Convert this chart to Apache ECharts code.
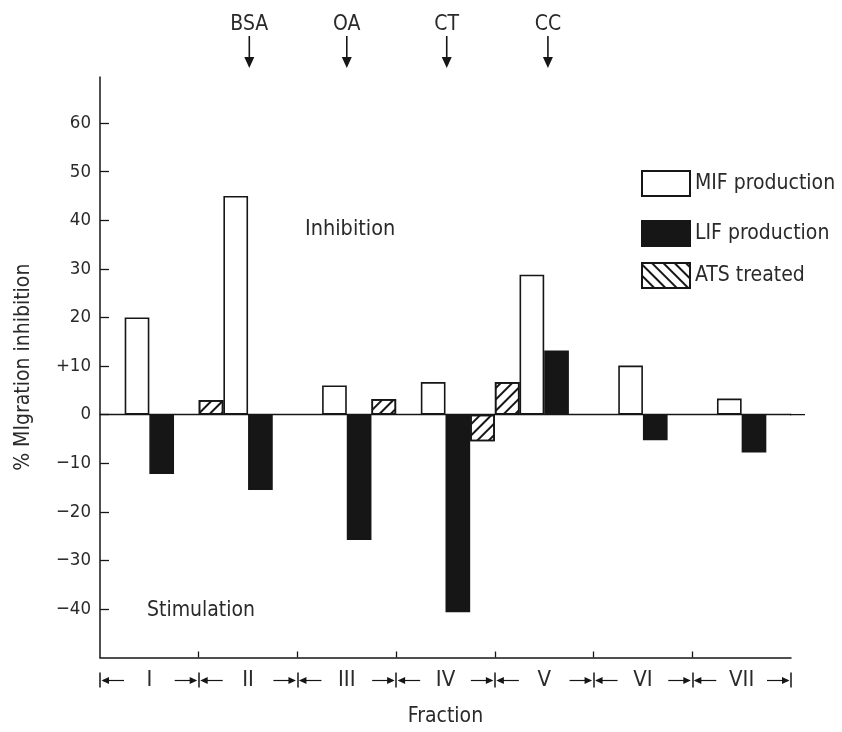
<!DOCTYPE html>
<html>
<head>
<meta charset="utf-8">
<script src="https://cdn.jsdelivr.net/npm/echarts@6/dist/echarts.min.js"></script>
<style>html,body{margin:0;padding:0;background:#fff;overflow:hidden}#c{width:842px;height:732px}</style>
</head>
<body>
<div id="c"></div>
<script>
// ---- data ----
const fractions = ['I', 'II', 'III', 'IV', 'V', 'VI', 'VII'];
const mifValues = [20, 45, 6, 6.7, 28.8, 10.1, 3.3];
const lifValues = [-12.2, -15.5, -25.8, -40.7, 13.2, -5.3, -7.8];
const atsBefore = [null, 3, null, null, 6.7, null, null];
const atsAfter = [null, null, 3.2, -5.5, null, null, null];
const yTickValues = [-40, -30, -20, -10, 0, 10, 20, 30, 40, 50, 60];
const yTickLabels = ['\u221240', '\u221230', '\u221220', '\u221210', '0', '+10', '20', '30', '40', '50', '60'];
const markerNames = ['BSA', 'OA', 'CT', 'CC'];
const markerSlots = [6.05, 10, 14.05, 18.15];
const fractionBoundaries = [4, 8, 12, 16, 20, 24];
const SLOTS = 4;

const FONT = "'DejaVu Sans Condensed', 'Liberation Sans Narrow', 'DejaVu Sans', sans-serif";
const INK = '#161616';
const TXT = '#2a2a2a';

// 4 slots per fraction: [ATS before, MIF, LIF, ATS after]
const slotNames = [], mifData = [], lifData = [], atsData = [];
fractions.forEach((f, i) => {
  for (let s = 0; s < SLOTS; s++) {
    slotNames.push(f + '-' + s);
    mifData.push(s === 1 ? mifValues[i] : null);
    lifData.push(s === 2 ? lifValues[i] : null);
    atsData.push(s === 0 ? atsBefore[i] : (s === 3 ? atsAfter[i] : null));
  }
});

const hatchBar = { symbol: 'rect', symbolSize: 1, dashArrayX: [1, 0], dashArrayY: [1.3, 5.2], rotation: -Math.PI / 4, color: INK };
const hatchLegend = { symbol: 'rect', symbolSize: 1, dashArrayX: [1, 0], dashArrayY: [1.3, 5.2], rotation: Math.PI / 4, color: INK };

const chart = echarts.init(document.getElementById('c'), null, { renderer: 'canvas' });

const legendCommon = {
  orient: 'vertical', left: 641, padding: 0, itemWidth: 48, itemHeight: 25, icon: 'rect',
  selectedMode: false, textStyle: { fontSize: 21, color: TXT, fontFamily: FONT }
};

chart.setOption({
  animation: false,
  backgroundColor: '#fff',
  textStyle: { fontFamily: FONT },
  grid: { left: 100, right: 51, top: 77, bottom: 69 },
  legend: [
    Object.assign({}, legendCommon, { top: 170, data: ['MIF production'] }),
    Object.assign({}, legendCommon, { top: 220, data: ['LIF production'] }),
    Object.assign({}, legendCommon, { top: 262, data: [{ name: 'ATS treated', itemStyle: { decal: hatchLegend } }] })
  ],
  xAxis: [
    { // slots, zero line
      type: 'category', data: slotNames, boundaryGap: true,
      axisLine: { show: true, onZero: true, lineStyle: { color: INK, width: 1.3 } },
      axisTick: { show: false }, axisLabel: { show: false }, splitLine: { show: false }
    },
    { // bottom frame with fraction boundary ticks
      type: 'value', min: 0, max: 28, position: 'bottom',
      axisLine: { show: true, onZero: false, lineStyle: { color: INK, width: 1.5 } },
      axisTick: { show: true, inside: true, length: 6, customValues: fractionBoundaries, lineStyle: { color: INK, width: 1.3 } },
      axisLabel: { show: false }, splitLine: { show: false },
      name: 'Fraction', nameLocation: 'middle', nameGap: 59,
      nameTextStyle: { fontSize: 21, color: TXT, fontFamily: FONT, verticalAlign: 'middle' }
    },
    { // fraction labels
      type: 'category', data: fractions, position: 'bottom', offset: 15,
      axisLine: { show: false, onZero: false },
      axisTick: { show: true, length: 15, lineStyle: { color: INK, width: 1.5 } },
      axisLabel: { fontSize: 22, color: TXT, fontFamily: FONT, margin: 8, verticalAlign: 'middle' },
      splitLine: { show: false }
    }
  ],
  yAxis: {
    type: 'value', min: -50, max: 69.5,
    axisLine: { show: true, onZero: false, lineStyle: { color: INK, width: 1.5 } },
    axisTick: { show: true, inside: true, length: 9, customValues: yTickValues, lineStyle: { color: INK, width: 1.3 } },
    axisLabel: {
      customValues: yTickValues, fontSize: 18.5, color: TXT, fontFamily: FONT, margin: 9,
      formatter: v => yTickLabels[yTickValues.indexOf(v)]
    },
    splitLine: { show: false },
    name: '% MIgration inhibition', nameLocation: 'middle', nameGap: 76,
    nameTextStyle: { fontSize: 21, color: TXT, fontFamily: FONT, verticalAlign: 'middle' }
  },
  graphic: [
    { type: 'text', left: 305, top: 218, style: { text: 'Inhibition', fontSize: 21.5, fill: TXT, fontFamily: FONT } },
    { type: 'text', left: 147, top: 600, style: { text: 'Stimulation', fontSize: 21, fill: TXT, fontFamily: FONT } }
  ],
  series: [
    {
      name: 'MIF production', type: 'bar', xAxisIndex: 0, data: mifData,
      barGap: '-100%', barCategoryGap: '0%',
      itemStyle: { color: '#fff', borderColor: INK, borderWidth: 1.6 }, emphasis: { disabled: true }
    },
    {
      name: 'LIF production', type: 'bar', xAxisIndex: 0, data: lifData,
      barGap: '-100%', barCategoryGap: '0%',
      itemStyle: { color: INK, borderColor: INK, borderWidth: 1.6 }, emphasis: { disabled: true }
    },
    {
      name: 'ATS treated', type: 'bar', xAxisIndex: 0, data: atsData,
      barGap: '-100%', barCategoryGap: '0%',
      itemStyle: { color: '#fff', borderColor: INK, borderWidth: 1.6, decal: hatchBar }, emphasis: { disabled: true }
    },
    { // elution markers on top
      type: 'custom', xAxisIndex: 1, yAxisIndex: 0, silent: true,
      data: markerSlots.map((p, i) => [p, i]),
      renderItem: (params, api) => {
        const x = api.coord([api.value(0), 0])[0];
        const top = params.coordSys.y;
        const name = markerNames[api.value(1)];
        return {
          type: 'group', children: [
            { type: 'text', style: { text: name, x: x, y: top - 52, align: 'center', verticalAlign: 'middle', fontSize: 21, fontFamily: FONT, fill: TXT } },
            { type: 'line', shape: { x1: x, y1: top - 41, x2: x, y2: top - 18 }, style: { stroke: INK, lineWidth: 1.6 } },
            { type: 'polygon', shape: { points: [[x - 5, top - 20], [x + 5, top - 20], [x, top - 9]] }, style: { fill: INK } }
          ]
        };
      }
    },
    { // range arrows under fraction labels
      type: 'custom', xAxisIndex: 1, yAxisIndex: 0, silent: true,
      data: fractions.map((f, i) => [i, 0]),
      renderItem: (params, api) => {
        const i = api.value(0);
        const xl = api.coord([i * SLOTS, 0])[0];
        const xr = api.coord([i * SLOTS + SLOTS, 0])[0];
        const y = params.coordSys.y + params.coordSys.height + 23;
        return {
          type: 'group', children: [
            { type: 'line', shape: { x1: xl + 3, y1: y, x2: xl + 24, y2: y }, style: { stroke: INK, lineWidth: 1.2 } },
            { type: 'polygon', shape: { points: [[xl + 1.5, y], [xl + 9, y - 3.5], [xl + 9, y + 3.5]] }, style: { fill: INK } },
            { type: 'line', shape: { x1: xr - 24, y1: y, x2: xr - 3, y2: y }, style: { stroke: INK, lineWidth: 1.2 } },
            { type: 'polygon', shape: { points: [[xr - 1.5, y], [xr - 9, y - 3.5], [xr - 9, y + 3.5]] }, style: { fill: INK } }
          ]
        };
      }
    },
    { // zero line runs a little past the last fraction
      type: 'custom', xAxisIndex: 1, yAxisIndex: 0, silent: true,
      data: [[28, 0]],
      renderItem: (params, api) => {
        const p = api.coord([api.value(0), api.value(1)]);
        return { type: 'line', shape: { x1: p[0] - 1, y1: p[1], x2: p[0] + 14, y2: p[1] }, style: { stroke: INK, lineWidth: 1.3 } };
      }
    }
  ]
});
</script>
</body>
</html>
